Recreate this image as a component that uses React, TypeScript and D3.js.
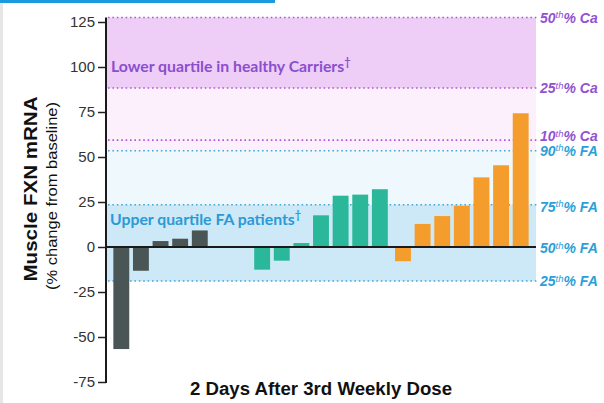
import { useEffect, useRef } from 'react';
import * as d3 from 'd3';

// bars, three cohorts of 7 slots each (gray cohort has 2 empty slots)
const cohorts = ['cohortA', 'cohortB', 'cohortC'];
const slots = [0, 1, 2, 3, 4, 5, 6];
const grayValues = [-56.7, -13.2, 3.3, 4.6, 9.2];
const tealValues = [-12.6, -7.6, 2.2, 17.6, 28.5, 29.1, 32.1];
const orangeValues = [-7.9, 12.8, 17.2, 22.9, 38.7, 45.4, 74.3];
const cohortColors = ['#4a5655', '#2bb79a', '#f59d2c'];

const yTicks = [-75, -50, -25, 0, 25, 50, 75, 100, 125];

// reference percentiles
const carrierLabels = ['50th', '25th', '10th'];
const carrierValues = [127.5, 88.3, 59.4];
const faLabels = ['90th', '75th', '50th', '25th'];
const faValues = [53.5, 23.5, 0, -18.9];

const PURPLE = '#9152d3';
const BLUE = '#2a9fd9';

export default function App() {
    const svgRef = useRef<SVGSVGElement>(null);

    useEffect(() => {
        const svg = d3.select(svgRef.current);
        svg.selectAll('*').remove();

        const left = 106;
        const right = 536;

        const y = d3.scaleLinear().domain([-75, 125]).range([382, 22]);

        const xGroup = d3.scaleBand<string>()
            .domain(cohorts)
            .range([left + 5.5, right - 5.5])
            .paddingInner(0.025);
        const xSlot = d3.scaleBand<number>()
            .domain(slots)
            .range([0, xGroup.bandwidth()])
            .paddingInner(0.19)
            .paddingOuter(0.095);

        // frame bits
        svg.append('rect').attr('x', 0).attr('y', 0).attr('width', 275).attr('height', 3).attr('fill', '#1d9ade');
        svg.append('rect').attr('x', 0).attr('y', 3).attr('width', 3).attr('height', 400).attr('fill', '#e6e6e6');

        // shaded bands
        const bands = [
            { top: carrierValues[0], bottom: carrierValues[1], fill: '#eecdf7' },
            { top: carrierValues[1], bottom: faValues[0], fill: '#fbf0fb' },
            { top: faValues[0], bottom: faValues[1], fill: '#eff8fc' },
            { top: faValues[1], bottom: faValues[3], fill: '#cde8f6' },
        ];
        svg.append('g')
            .selectAll('rect')
            .data(bands)
            .join('rect')
            .attr('x', left)
            .attr('width', right - left)
            .attr('y', (d) => y(d.top))
            .attr('height', (d) => y(d.bottom) - y(d.top))
            .attr('fill', (d) => d.fill);

        // dotted percentile lines
        const lines = [
            ...carrierValues.map((v) => ({ v, c: '#b355d6' })),
            ...faValues.filter((v) => v !== 0).map((v) => ({ v, c: '#44a7d8' })),
        ];
        svg.append('g')
            .selectAll('line')
            .data(lines)
            .join('line')
            .attr('x1', left + 2)
            .attr('x2', right + 2)
            .attr('y1', (d) => y(d.v))
            .attr('y2', (d) => y(d.v))
            .attr('stroke', (d) => d.c)
            .attr('stroke-width', 1.6)
            .attr('stroke-dasharray', '1.6 2.8');

        // band captions
        const cap1 = svg.append('text')
            .attr('x', 111).attr('y', 72)
            .attr('fill', '#8a4fcf')
            .style('font-family', 'Lato, sans-serif')
            .style('font-weight', 700)
            .style('font-size', '15.8px')
            .text('Lower quartile in healthy Carriers');
        cap1.append('tspan').attr('dy', -6).style('font-size', '11px').text('†');

        const cap2 = svg.append('text')
            .attr('x', 110).attr('y', 225)
            .attr('fill', '#2a9ad6')
            .style('font-family', 'Lato, sans-serif')
            .style('font-weight', 700)
            .style('font-size', '15.8px')
            .text('Upper quartile FA patients');
        cap2.append('tspan').attr('dy', -6).style('font-size', '11px').text('†');

        // bars
        const barData = [grayValues, tealValues, orangeValues].flatMap((vals, gi) =>
            vals.map((v, si) => ({ group: cohorts[gi], slot: si, value: v, color: cohortColors[gi] })));
        svg.append('g')
            .selectAll('rect')
            .data(barData)
            .join('rect')
            .attr('x', (d) => (xGroup(d.group) ?? 0) + (xSlot(d.slot) ?? 0))
            .attr('width', xSlot.bandwidth())
            .attr('y', (d) => y(Math.max(0, d.value)))
            .attr('height', (d) => Math.abs(y(d.value) - y(0)))
            .attr('fill', (d) => d.color);

        // zero line
        svg.append('line')
            .attr('x1', left).attr('x2', right)
            .attr('y1', y(0)).attr('y2', y(0))
            .attr('stroke', '#1a1a1a').attr('stroke-width', 2);

        // y axis
        const yAxis = svg.append('g')
            .attr('transform', `translate(${left},0)`)
            .call(d3.axisLeft(y).tickValues(yTicks).tickSize(8).tickPadding(3).tickFormat((d) => String(d)));
        yAxis.select('.domain').remove();
        yAxis.selectAll('.tick line').attr('stroke', '#222').attr('stroke-width', 1.5);
        yAxis.selectAll('.tick text')
            .attr('fill', '#333')
            .style('font-family', '"Liberation Sans", Arial, sans-serif')
            .style('font-size', '15px');
        svg.append('line')
            .attr('x1', left).attr('x2', left)
            .attr('y1', y(127.5)).attr('y2', y(-75) + 1)
            .attr('stroke', '#1a1a1a').attr('stroke-width', 2);

        // right-hand percentile labels
        const rightLabels = [
            ...carrierLabels.map((t, i) => ({ t, v: carrierValues[i], suffix: '% Ca', c: PURPLE, dy: i === 2 ? -4 : 0 })),
            ...faLabels.map((t, i) => ({ t, v: faValues[i], suffix: '% FA', c: BLUE, dy: i === 1 ? 2 : i === 2 ? 1 : 0 })),
        ];
        const rl = svg.append('g')
            .selectAll('text')
            .data(rightLabels)
            .join('text')
            .attr('x', 540)
            .attr('y', (d) => y(d.v) + d.dy + 5)
            .attr('fill', (d) => d.c)
            .style('font-family', '"Liberation Sans", Arial, sans-serif')
            .style('font-style', 'italic')
            .style('font-weight', 700)
            .style('font-size', '14px');
        rl.append('tspan').text((d) => d.t.slice(0, 2));
        rl.append('tspan').attr('dy', -4.5).style('font-size', '9.5px').style('font-weight', 400).text((d) => d.t.slice(2));
        rl.append('tspan').attr('dy', 4.5).text((d) => d.suffix);

        // axis titles
        svg.append('text')
            .attr('transform', 'translate(37,189) rotate(-90)')
            .attr('text-anchor', 'middle')
            .attr('fill', '#111')
            .attr('textLength', 185)
            .attr('lengthAdjust', 'spacingAndGlyphs')
            .style('font-family', '"Liberation Sans", Arial, sans-serif')
            .style('font-weight', 700)
            .style('font-size', '17.5px')
            .text('Muscle FXN mRNA');
        svg.append('text')
            .attr('transform', 'translate(57,196) rotate(-90)')
            .attr('text-anchor', 'middle')
            .attr('fill', '#111')
            .attr('textLength', 188)
            .attr('lengthAdjust', 'spacingAndGlyphs')
            .style('font-family', '"Liberation Sans", Arial, sans-serif')
            .style('font-size', '15.5px')
            .text('(% change from baseline)');
        svg.append('text')
            .attr('x', 321).attr('y', 395)
            .attr('text-anchor', 'middle')
            .attr('fill', '#111')
            .attr('textLength', 262)
            .attr('lengthAdjust', 'spacingAndGlyphs')
            .style('font-family', '"Liberation Sans", Arial, sans-serif')
            .style('font-weight', 700)
            .style('font-size', '18px')
            .text('2 Days After 3rd Weekly Dose');
    }, []);

    return (
        <svg
            ref={svgRef}
            width={604}
            height={403}
            style={{ position: 'absolute', left: 0, top: 0, background: '#fff' }}
        />
    );
}
